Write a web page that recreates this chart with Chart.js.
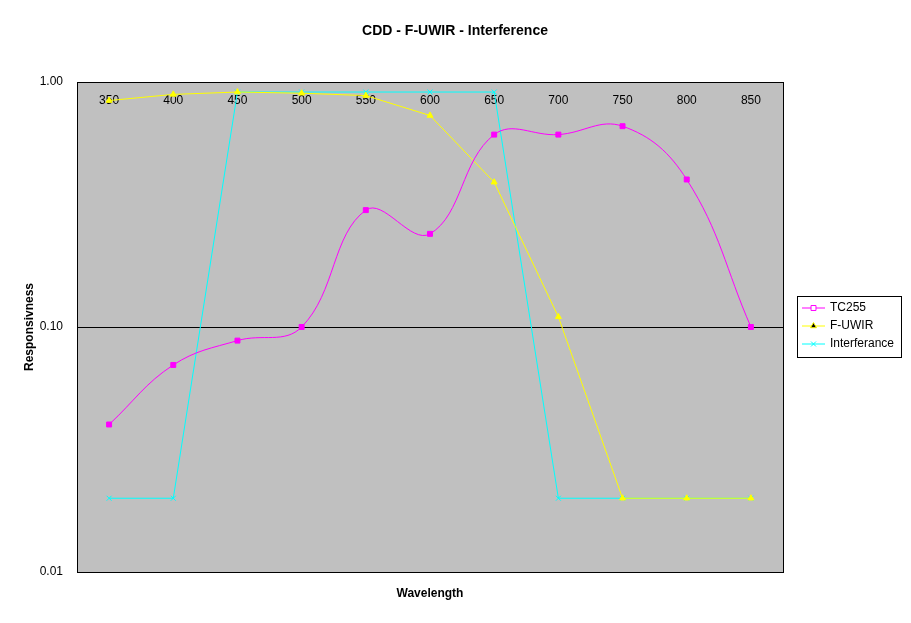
<!DOCTYPE html>
<html><head><meta charset="utf-8">
<script src="https://cdn.jsdelivr.net/npm/chart.js@4"></script>
<style>html,body{margin:0;background:#fff}#wrap{width:911px;height:623px}</style>
</head><body><div id="wrap"><canvas id="c"></canvas></div>
<script>
const wavelengths = ["350","400","450","500","550","600","650","700","750","800","850"];
const tc255 = [0.04, 0.07, 0.088, 0.10, 0.30, 0.24, 0.61, 0.61, 0.66, 0.40, 0.10];
const fUwir = [0.84, 0.89, 0.91, 0.90, 0.88, 0.73, 0.39, 0.11, 0.02, 0.02, 0.02];
const interference = [0.02, 0.02, 0.91, 0.91, 0.91, 0.91, 0.91, 0.02, 0.02, 0.02, 0.02];
const yTicks = [0.01, 0.1, 1];

const FONT = "'Liberation Sans', Arial, sans-serif";
Chart.defaults.font.family = FONT;
Chart.defaults.font.size = 12;
Chart.defaults.color = "#000";

const excelLook = {
  id: "excelLook",
  beforeDatasetsDraw(chart) {
    const { ctx, chartArea: a, scales } = chart;
    ctx.save();
    ctx.fillStyle = "#c0c0c0";
    ctx.fillRect(a.left, a.top, a.right - a.left, a.bottom - a.top);
    const y = Math.round(scales.y.getPixelForValue(0.1)) + 0.5;
    ctx.strokeStyle = "#000"; ctx.lineWidth = 1;
    ctx.beginPath(); ctx.moveTo(a.left, y); ctx.lineTo(a.right, y); ctx.stroke();
    ctx.strokeRect(a.left + 0.5, a.top + 0.5, a.right - a.left, a.bottom - a.top);
    // category labels inside the top of the plot
    ctx.font = "12px " + FONT; ctx.textAlign = "center"; ctx.textBaseline = "middle"; ctx.fillStyle = "#000";
    wavelengths.forEach((w, i) => ctx.fillText(w, scales.x.getPixelForValue(i), a.top + 19));
    ctx.restore();
  },
  afterDraw(chart) {
    const { ctx, chartArea: a } = chart;
    ctx.save();
    ctx.fillStyle = "#000"; ctx.textAlign = "center"; ctx.textBaseline = "middle";
    ctx.font = "bold 14px " + FONT;
    ctx.fillText("CDD - F-UWIR - Interference", 455, 31);
    ctx.font = "bold 12px " + FONT;
    ctx.fillText("Wavelength", (a.left + a.right) / 2, 594);
    ctx.translate(30, (a.top + a.bottom) / 2); ctx.rotate(-Math.PI / 2);
    ctx.fillText("Responsivness", 0, 0);
    ctx.restore();
    // legend box
    ctx.save();
    const lx = 797, ly = 296, lw = 104, lh = 61;
    ctx.fillStyle = "#fff"; ctx.fillRect(lx, ly, lw, lh);
    ctx.strokeStyle = "#000"; ctx.lineWidth = 1; ctx.strokeRect(lx + 0.5, ly + 0.5, lw, lh);
    ctx.font = "12px " + FONT; ctx.textAlign = "left"; ctx.textBaseline = "middle";
    chart.data.datasets.forEach((ds, i) => {
      const yy = ly + 12 + i * 18;
      ctx.strokeStyle = ds.borderColor; ctx.beginPath(); ctx.moveTo(lx + 5, yy); ctx.lineTo(lx + 28, yy); ctx.stroke();
      Chart.helpers.drawPoint(ctx, { pointStyle: ds.pointStyle, radius: 3.5, borderWidth: 1 }, lx + 16.5, yy);
      ctx.fillStyle = "#000"; ctx.fillText(ds.label, lx + 33, yy);
    });
    ctx.restore();
  }
};

function series(label, data, color, style, tension) {
  return { label, data, borderColor: color, backgroundColor: color, pointBackgroundColor: color,
    pointBorderColor: color, pointStyle: style, pointRadius: 3.5, borderWidth: 1, tension };
}

new Chart(document.getElementById("c"), {
  type: "line",
  data: {
    labels: wavelengths,
    datasets: [
      series("TC255", tc255, "#ff00ff", "rect", 0.4),
      series("F-UWIR", fUwir, "#ffff00", "triangle", 0),
      series("Interferance", interference, "#00ffff", "crossRot", 0),
    ],
  },
  options: {
    responsive: true, maintainAspectRatio: false, animation: false,
    layout: { padding: { top: 82, right: 128, bottom: 51, left: 0 } },
    plugins: { legend: { display: false }, title: { display: false }, tooltip: { enabled: false } },
    scales: {
      x: { type: "category", offset: true, display: false },
      y: {
        type: "logarithmic", min: 0.01, max: 1,
        afterBuildTicks: (s) => { s.ticks = yTicks.map((v) => ({ value: v })); },
        afterFit: (s) => { s.width = 77; },
        grid: { display: false },
        border: { color: "#000" },
        ticks: { callback: (v) => Number(v).toFixed(2), font: { size: 12 }, padding: 6 },
      },
    },
  },
  plugins: [excelLook],
});
</script></body></html>
